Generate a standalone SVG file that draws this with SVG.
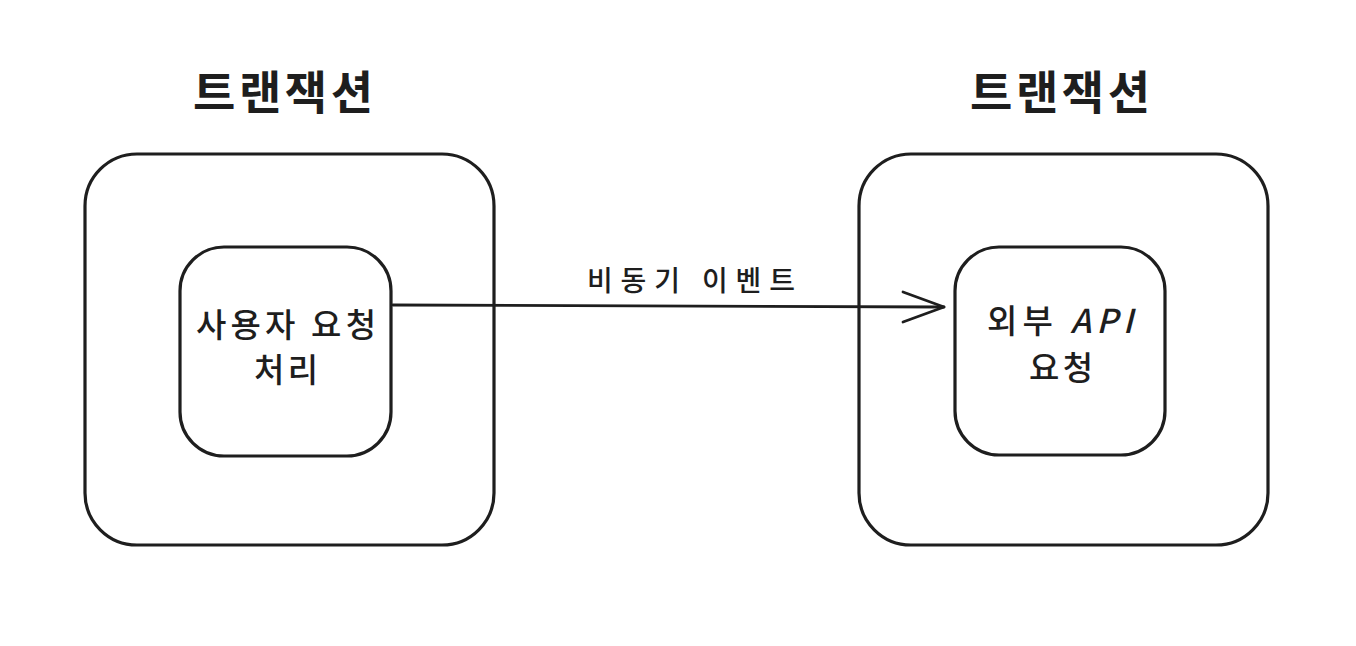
<svg xmlns="http://www.w3.org/2000/svg" width="1356" height="646" viewBox="0 0 1356 646">
<style>
.box{fill:none;stroke:#1e1e1e;stroke-width:3.2;stroke-linejoin:round}
.title{font-family:"Noto Sans CJK KR","Noto Sans",sans-serif;font-size:46px;font-weight:700;fill:#1e1e1e;text-anchor:middle}
.lbl{font-family:"Noto Sans CJK KR","Noto Sans",sans-serif;font-size:33px;font-weight:500;fill:#1e1e1e;text-anchor:middle}
.elbl{font-family:"Noto Sans CJK KR","Noto Sans",sans-serif;font-size:28px;font-weight:500;fill:#1e1e1e;text-anchor:middle}
.conn{fill:none;stroke:#1e1e1e;stroke-width:2.8;stroke-linecap:round;stroke-linejoin:round}
</style>
<rect width="1356" height="646" fill="#ffffff"/>
<g id="left-transaction">
<text class="title" x="283" y="109" textLength="180" lengthAdjust="spacing">트랜잭션</text>
<rect class="box" x="85" y="154" width="409" height="391" rx="52"/>
</g>
<g id="left-task">
<rect class="box" x="180" y="247" width="211" height="209" rx="44"/>
<text class="lbl" x="286" y="337" textLength="180" lengthAdjust="spacing">사용자 요청</text>
<text class="lbl" x="286" y="382" textLength="64" lengthAdjust="spacing">처리</text>
</g>
<g id="right-transaction">
<text class="title" x="1060" y="109" textLength="180" lengthAdjust="spacing">트랜잭션</text>
<rect class="box" x="859" y="154" width="409" height="391" rx="52"/>
</g>
<g id="right-task">
<rect class="box" x="955" y="247" width="210" height="208" rx="44"/>
<text class="lbl" x="1060" y="333" textLength="146" lengthAdjust="spacing">외부 <tspan font-style="italic">API</tspan></text>
<text class="lbl" x="1061" y="380" textLength="64" lengthAdjust="spacing">요청</text>
</g>
<g id="connectors">
<path class="conn" d="M393 305 L944 307"/>
<path class="conn" d="M903 292 L944 307 L903 322"/>
<text class="elbl" x="691" y="291" textLength="208" lengthAdjust="spacing">비동기 이벤트</text>
</g>
</svg>
